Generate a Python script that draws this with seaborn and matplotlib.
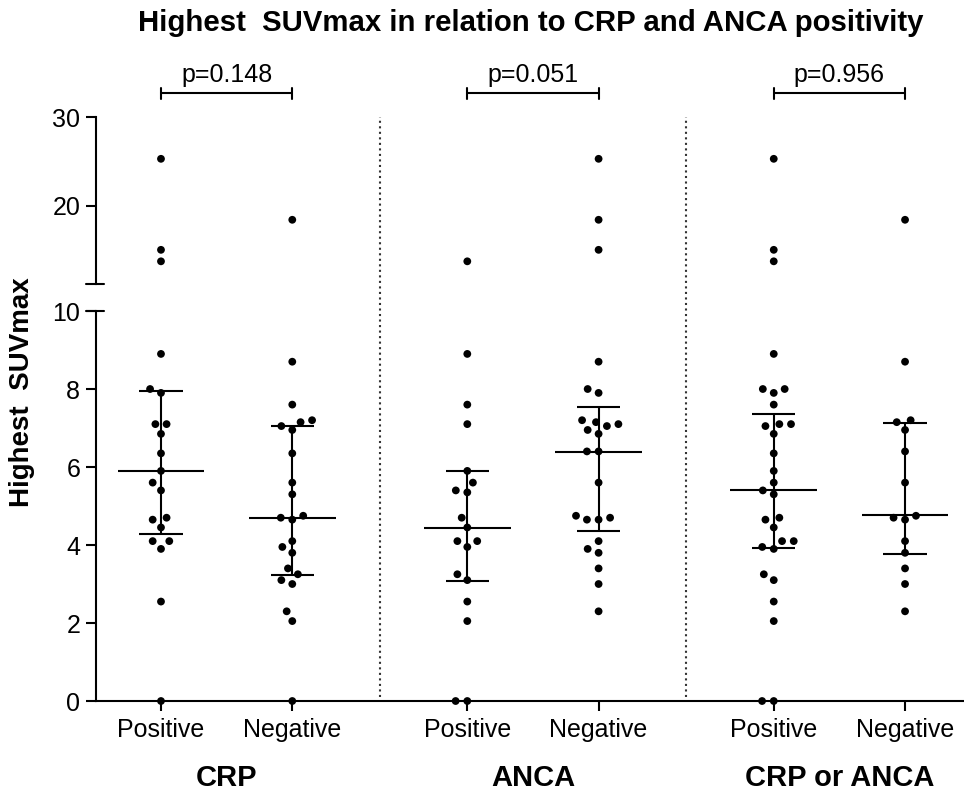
import matplotlib
matplotlib.use('Agg')
import matplotlib.pyplot as plt
import matplotlib.transforms as mtransforms
import numpy as np, pandas as pd
import seaborn as sns

# ── Data ─────────────────────────────────────────────────────────
GROUPS = ['CRP', 'ANCA', 'CRP or ANCA']
STATUS = ['Positive', 'Negative']
P_VALUES = ['p=0.148', 'p=0.051', 'p=0.956']

crp_pos  = [25.3, 15.0, 13.7, 8.9, 8.0, 7.9, 7.1, 7.1, 6.85, 6.35, 5.9, 5.6, 5.4,
            4.7, 4.65, 4.45, 4.1, 4.1, 3.9, 2.55, 0.0]
crp_neg  = [18.4, 8.7, 7.6, 7.2, 7.15, 7.05, 6.95, 6.35, 5.6, 5.3, 4.75, 4.7, 4.65,
            4.1, 3.95, 3.8, 3.4, 3.25, 3.1, 3.0, 2.3, 2.05, 0.0]
anca_pos = [13.7, 8.9, 7.6, 7.1, 5.9, 5.6, 5.35, 5.4, 4.7, 4.45, 4.1, 4.1, 3.95,
            3.25, 3.1, 2.55, 2.05, 0.0, 0.0]
anca_neg = [25.3, 18.4, 15.0, 8.7, 8.0, 7.9, 7.2, 7.15, 7.1, 7.05, 6.95, 6.85, 6.4,
            6.4, 5.6, 4.75, 4.7, 4.65, 4.65, 4.1, 3.9, 3.8, 3.4, 3.0, 2.3]
any_pos  = [25.3, 15.0, 13.7, 8.9, 8.0, 8.0, 7.9, 7.6, 7.1, 7.05, 7.1, 6.85, 6.35,
            5.9, 5.6, 5.3, 5.4, 4.65, 4.7, 4.45, 4.1, 4.1, 3.95, 3.9, 3.25, 3.1,
            2.55, 2.05, 0.0, 0.0]
any_neg  = [18.4, 8.7, 7.2, 7.15, 6.95, 6.4, 5.6, 4.7, 4.65, 4.75, 4.1, 3.8, 3.4,
            3.0, 2.3]

MEDIAN = [5.9, 4.68, 4.44, 6.39, 5.4, 4.76]
Q1     = [4.27, 3.23, 3.08, 4.37, 3.93, 3.78]
Q3     = [7.95, 7.06, 5.9, 7.55, 7.35, 7.13]

SERIES = [crp_pos, crp_neg, anca_pos, anca_neg, any_pos, any_neg]

# ── Layout ───────────────────────────────────────────────────────
POSITIONS = np.array([0.0, 1.0, 2.333, 3.333, 4.667, 5.667])
SEPARATORS = [1.667, 4.0]
BREAK_LOW = 11.1

rows = []
for pos, vals in zip(POSITIONS, SERIES):
    for v in vals:
        rows.append({'pos': pos, 'value': v})
df = pd.DataFrame(rows)

sns.set_style('white')
plt.rcParams['font.family'] = ['Liberation Sans', 'DejaVu Sans']
plt.rcParams.update({'text.color': 'black', 'axes.labelcolor': 'black',
                     'xtick.color': 'black', 'ytick.color': 'black'})

W, H = 964, 793
fig = plt.figure(figsize=(W / 100, H / 100), dpi=100)
ax_up  = fig.add_axes([0.0993, 0.6415, 0.9007, 0.2106])
ax_low = fig.add_axes([0.0993, 0.1160, 0.9007, 0.4918])

for ax, sub in [(ax_low, df[df['value'] <= 10]), (ax_up, df[df['value'] > 10])]:
    sns.swarmplot(data=sub, x='pos', y='value', native_scale=True, orient='x',
                  color='black', size=5.6, linewidth=2.4, edgecolor='none',
                  ax=ax, clip_on=False)
    ax.set_xlim(-0.497, 6.116)
    ax.set_xlabel(''); ax.set_ylabel('')
    for s in ['top', 'right']:
        ax.spines[s].set_visible(False)
    for s in ['left', 'bottom']:
        ax.spines[s].set_linewidth(1.5)
        ax.spines[s].set_color('black')
    ax.tick_params(axis='both', length=7.2, width=1.5, labelsize=18, color='black',
                   labelcolor='black', direction='out', left=True, bottom=True)
    ax.tick_params(axis='y', pad=4)

ax_low.set_ylim(0, 10)
ax_low.set_yticks([0, 2, 4, 6, 8, 10])
ax_low.set_xticks(POSITIONS, STATUS * 3)
ax_low.tick_params(axis='x', pad=5)

ax_up.set_ylim(BREAK_LOW, 30)
ax_up.set_yticks([20, 30])
ax_up.set_xticks([])
ax_up.spines['bottom'].set_visible(False)

# median + interquartile range
lk = dict(color='black', lw=1.5, zorder=4)
ax_low.hlines(MEDIAN, POSITIONS - 0.33, POSITIONS + 0.33, **lk)
ax_low.hlines(Q1, POSITIONS - 0.165, POSITIONS + 0.165, **lk)
ax_low.hlines(Q3, POSITIONS - 0.165, POSITIONS + 0.165, **lk)
ax_low.vlines(POSITIONS, Q1, Q3, **lk)

# axis break caps
for ax, yy in [(ax_up, 0), (ax_low, 1)]:
    ax.plot([-0.0115, 0.0092], [yy, yy], transform=ax.transAxes, color='black',
            lw=1.5, clip_on=False)

# dotted separators spanning both segments
trans = mtransforms.blended_transform_factory(ax_low.transData, fig.transFigure)
for x in SEPARATORS:
    ax_low.plot([x, x], [1 - 697 / H, 1 - 117 / H], transform=trans, clip_on=False,
                ls=':', color='#333333', lw=1.5)

# significance brackets
yb = 1 - 93 / H
dy = 5.5 / H
for i, p in enumerate(P_VALUES):
    x0, x1 = POSITIONS[2 * i], POSITIONS[2 * i + 1]
    ax_low.plot([x0, x1], [yb, yb], transform=trans, clip_on=False, color='black', lw=1.5)
    for x in (x0, x1):
        ax_low.plot([x, x], [yb - dy, yb + dy], transform=trans, clip_on=False,
                    color='black', lw=1.5)
    ax_low.text((x0 + x1) / 2, 1 - 75 / H, p, transform=trans, ha='center',
                va='center', fontsize=18)
    ax_low.text((x0 + x1) / 2, 1 - 778 / H, GROUPS[i], transform=trans, ha='center',
                va='center', fontsize=21, fontweight='bold')

fig.text(531 / W, 1 - 23 / H, 'Highest  SUVmax in relation to CRP and ANCA positivity',
         ha='center', va='center', fontsize=21.2, fontweight='bold')
fig.text(22 / W, 1 - 392 / H, 'Highest  SUVmax', rotation=90, ha='center',
         va='center', fontsize=20, fontweight='bold')

fig.savefig('out.png', dpi=100)
